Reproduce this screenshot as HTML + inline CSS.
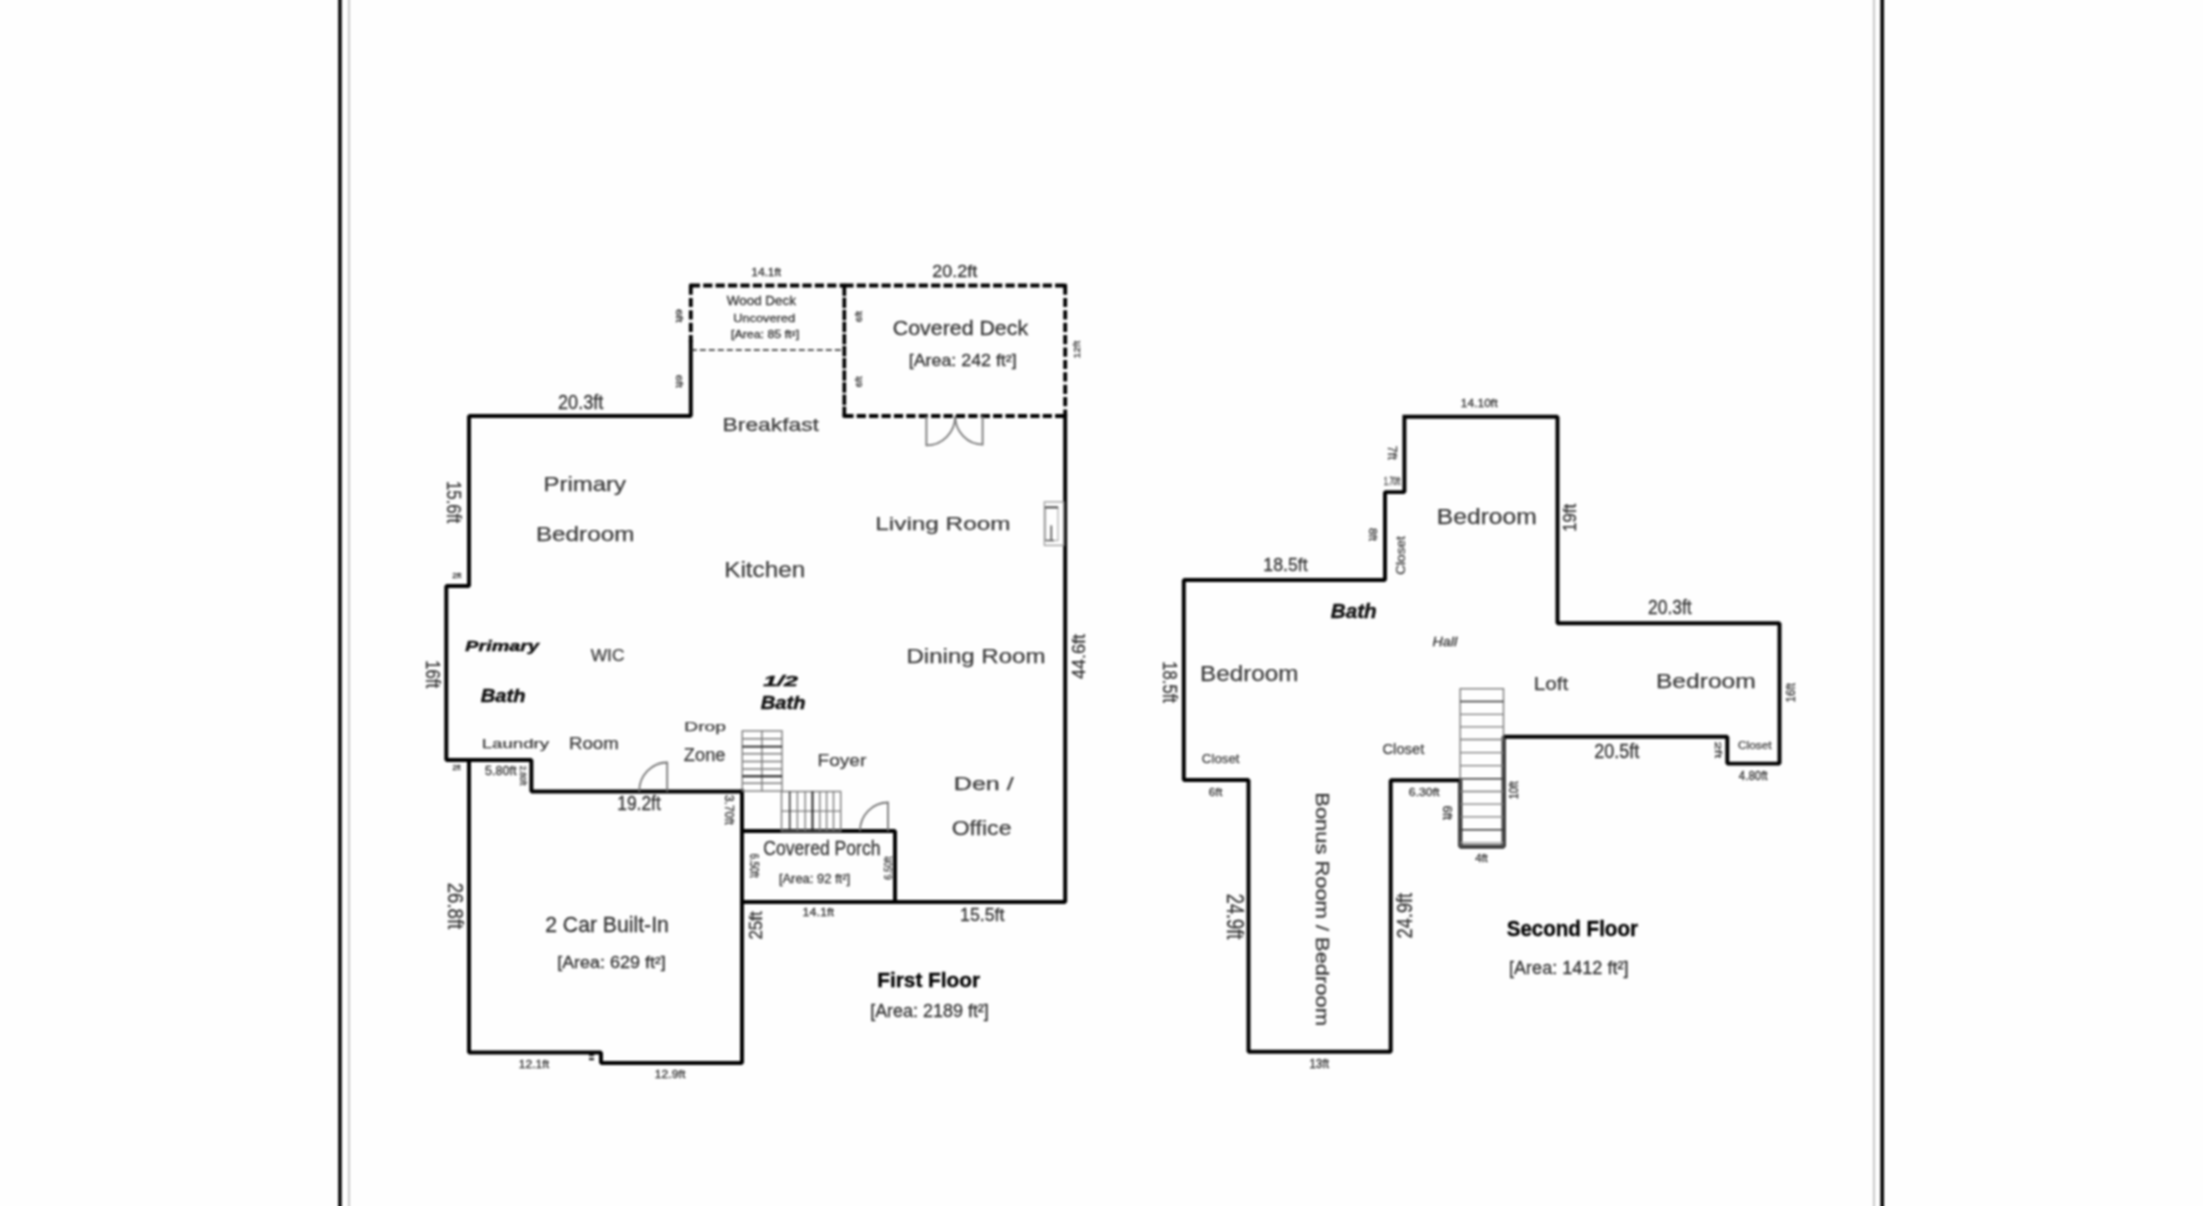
<!DOCTYPE html><html><head><meta charset="utf-8"><style>html,body{margin:0;padding:0;background:#fff;width:2203px;height:1206px;overflow:hidden}svg{position:absolute;left:-6px;top:-6px;font-family:"Liberation Sans",sans-serif;filter:blur(1px)}</style></head><body>
<svg width="2215" height="1218" viewBox="-6 -6 2215 1218">
<rect x="-6" y="-6" width="2215" height="1218" fill="#fefefe"/>
<rect x="338.2" y="-6" width="3.5" height="1218" fill="#000"/>
<rect x="348" y="-6" width="2" height="1218" fill="#c8c8c8"/>
<rect x="1873" y="-6" width="2" height="1218" fill="#c8c8c8"/>
<rect x="1880.4" y="-6" width="3.6" height="1218" fill="#000"/>
<path d="M690.8,342 L690.8,416 L469,416 L469,586 L446.3,586 L446.3,760 L531.4,760 L531.4,791.5 L742,791.5" fill="none" stroke="#000" stroke-width="3.95" stroke-linejoin="bevel" stroke-linecap="square"/>
<path d="M469,760 L469,1052.5 L601,1052.5 L601,1063 L742,1063 L742,791.5" fill="none" stroke="#000" stroke-width="3.95" stroke-linejoin="bevel" stroke-linecap="square"/>
<path d="M742,831 L895,831 L895,902" fill="none" stroke="#000" stroke-width="3.95" stroke-linejoin="bevel" stroke-linecap="square"/>
<path d="M742,902 L1065.2,902 L1065.2,416" fill="none" stroke="#000" stroke-width="3.95" stroke-linejoin="bevel" stroke-linecap="square"/>
<path d="M690.8,285.5 L844.3,285.5" fill="none" stroke="#000" stroke-width="3.85" stroke-dasharray="9.2 3.2" stroke-linecap="butt"/>
<path d="M844.3,285.5 L1065.2,285.5" fill="none" stroke="#000" stroke-width="3.85" stroke-dasharray="9.2 3.2" stroke-linecap="butt"/>
<path d="M690.8,285.5 L690.8,342" fill="none" stroke="#000" stroke-width="3.85" stroke-dasharray="9.2 3.2" stroke-linecap="butt"/>
<path d="M1065.2,285.5 L1065.2,416" fill="none" stroke="#000" stroke-width="3.85" stroke-dasharray="9.2 3.2" stroke-linecap="butt"/>
<path d="M844.3,416 L1065.2,416" fill="none" stroke="#000" stroke-width="3.85" stroke-dasharray="9.2 3.2" stroke-linecap="butt"/>
<path d="M844.3,285.5 L844.3,416" fill="none" stroke="#000" stroke-width="3.7" stroke-dasharray="10.5 1.6" stroke-linecap="butt"/>
<rect x="689.05" y="283.75" width="3.5" height="3.5" fill="#000"/>
<rect x="1063.45" y="283.75" width="3.5" height="3.5" fill="#000"/>
<rect x="842.55" y="414.25" width="3.5" height="3.5" fill="#000"/>
<rect x="1063.45" y="414.25" width="3.5" height="3.5" fill="#000"/>
<rect x="842.55" y="283.75" width="3.5" height="3.5" fill="#000"/>
<path d="M690.8,350 L844.3,350" fill="none" stroke="#222" stroke-width="1.6" stroke-dasharray="6 3" />
<path d="M1404.4,416.7 L1557.5,416.7 L1557.5,623.2 L1779.5,623.2 L1779.5,763.6 L1727.3,763.6 L1727.3,736.7 L1503.7,736.7 L1503.7,846.4 L1460.2,846.4 L1460.2,780.3 L1390.7,780.3 L1390.7,1051.8 L1248.5,1051.8 L1248.5,780 L1183.8,780 L1183.8,580 L1385,580 L1385,492.1 L1404.4,492.1 L1404.4,416.7" fill="none" stroke="#000" stroke-width="3.95" stroke-linejoin="bevel" stroke-linecap="square"/>
<rect x="1460.2" y="688.7" width="43.3" height="157.5" stroke="#7a7a7a" stroke-width="1.4" fill="none"/>
<line x1="1460.2" y1="701.5" x2="1503.5" y2="701.5" stroke="#333" stroke-width="1.6" fill="none"/>
<line x1="1460.2" y1="714.4" x2="1503.5" y2="714.4" stroke="#7a7a7a" stroke-width="1.4" fill="none"/>
<line x1="1460.2" y1="726.9" x2="1503.5" y2="726.9" stroke="#7a7a7a" stroke-width="1.4" fill="none"/>
<line x1="1460.2" y1="739.5" x2="1503.5" y2="739.5" stroke="#7a7a7a" stroke-width="1.4" fill="none"/>
<line x1="1460.2" y1="752.6" x2="1503.5" y2="752.6" stroke="#7a7a7a" stroke-width="1.4" fill="none"/>
<line x1="1460.2" y1="765.6" x2="1503.5" y2="765.6" stroke="#7a7a7a" stroke-width="1.4" fill="none"/>
<line x1="1460.2" y1="778.7" x2="1503.5" y2="778.7" stroke="#333" stroke-width="1.6" fill="none"/>
<line x1="1460.2" y1="791.5" x2="1503.5" y2="791.5" stroke="#7a7a7a" stroke-width="1.4" fill="none"/>
<line x1="1460.2" y1="804.1" x2="1503.5" y2="804.1" stroke="#7a7a7a" stroke-width="1.4" fill="none"/>
<line x1="1460.2" y1="816.9" x2="1503.5" y2="816.9" stroke="#7a7a7a" stroke-width="1.4" fill="none"/>
<line x1="1460.2" y1="829.8" x2="1503.5" y2="829.8" stroke="#333" stroke-width="1.6" fill="none"/>
<line x1="1460.2" y1="842.6" x2="1503.5" y2="842.6" stroke="#999" stroke-width="1.3"/>
<rect x="742.3" y="730.9" width="39.7" height="60.2" stroke="#7a7a7a" stroke-width="1.4" fill="none"/>
<line x1="761.9" y1="730.9" x2="761.9" y2="791.1" stroke="#7a7a7a" stroke-width="1.4" fill="none"/>
<line x1="742.3" y1="738.7" x2="782" y2="738.7" stroke="#7a7a7a" stroke-width="1.4" fill="none"/>
<line x1="742.3" y1="746.6" x2="782" y2="746.6" stroke="#1a1a1a" stroke-width="1.9" fill="none"/>
<line x1="742.3" y1="753.7" x2="782" y2="753.7" stroke="#7a7a7a" stroke-width="1.4" fill="none"/>
<line x1="742.3" y1="761.5" x2="782" y2="761.5" stroke="#7a7a7a" stroke-width="1.4" fill="none"/>
<line x1="742.3" y1="769" x2="782" y2="769" stroke="#7a7a7a" stroke-width="1.4" fill="none"/>
<line x1="742.3" y1="776.2" x2="782" y2="776.2" stroke="#1a1a1a" stroke-width="1.9" fill="none"/>
<line x1="742.3" y1="783.3" x2="782" y2="783.3" stroke="#7a7a7a" stroke-width="1.4" fill="none"/>
<rect x="781.5" y="791.5" width="59.2" height="39.5" stroke="#7a7a7a" stroke-width="1.4" fill="none"/>
<line x1="781.5" y1="811.1" x2="840.7" y2="811.1" stroke="#7a7a7a" stroke-width="1.4" fill="none"/>
<line x1="789.7" y1="791.5" x2="789.7" y2="831" stroke="#333" stroke-width="1.6" fill="none"/>
<line x1="797.4" y1="791.5" x2="797.4" y2="831" stroke="#7a7a7a" stroke-width="1.4" fill="none"/>
<line x1="805.2" y1="791.5" x2="805.2" y2="831" stroke="#7a7a7a" stroke-width="1.4" fill="none"/>
<line x1="812.5" y1="791.5" x2="812.5" y2="831" stroke="#1a1a1a" stroke-width="1.9" fill="none"/>
<line x1="819.8" y1="791.5" x2="819.8" y2="831" stroke="#7a7a7a" stroke-width="1.4" fill="none"/>
<line x1="826.6" y1="791.5" x2="826.6" y2="831" stroke="#7a7a7a" stroke-width="1.4" fill="none"/>
<line x1="833.5" y1="791.5" x2="833.5" y2="831" stroke="#7a7a7a" stroke-width="1.4" fill="none"/>
<path d="M667.2,791.5 L667.2,762.5 A28,29 0 0 0 639.2,791.5" fill="none" stroke="#777" stroke-width="1.8"/>
<path d="M888,831 L888,802.5 A28,28.5 0 0 0 860,831" fill="none" stroke="#777" stroke-width="1.8"/>
<path d="M926.4,416 L926.4,445.4 A28.8,29.4 0 0 0 955.2,416" fill="none" stroke="#777" stroke-width="1.8"/>
<path d="M982.6,416 L982.6,444.6 A27.4,28.6 0 0 1 955.2,416" fill="none" stroke="#777" stroke-width="1.8"/>
<rect x="1044.4" y="501.9" width="19.5" height="43.5" fill="none" stroke="#999" stroke-width="1.3"/>
<rect x="1045.5" y="507.4" width="12.5" height="33.1" fill="none" stroke="#aaa" stroke-width="1.2"/>
<line x1="1045" y1="507.4" x2="1058" y2="507.4" stroke="#333" stroke-width="1.8"/>
<line x1="1051.3" y1="525.4" x2="1051.3" y2="541" stroke="#444" stroke-width="1.5"/>
<line x1="1045.5" y1="540.5" x2="1054" y2="540.5" stroke="#555" stroke-width="1.5"/>
<rect x="589" y="1054" width="5" height="2.2" fill="#222"/><rect x="589" y="1058" width="5" height="2.2" fill="#222"/>
<text x="751.22" y="276.05" font-size="10.03" textLength="29.96" lengthAdjust="spacingAndGlyphs" style="font-weight:400" fill="#333" stroke="#333" stroke-width="0.3">14.1ft</text>
<text x="932.38" y="277.25" font-size="17.01" textLength="44.74" lengthAdjust="spacingAndGlyphs" style="font-weight:400" fill="#333" stroke="#333" stroke-width="0.3">20.2ft</text>
<text x="726.82" y="305.05" font-size="12.06" textLength="69.08" lengthAdjust="spacingAndGlyphs" style="font-weight:400" fill="#333" stroke="#333" stroke-width="0.3">Wood Deck</text>
<text x="733.16" y="321.75" font-size="11.05" textLength="61.88" lengthAdjust="spacingAndGlyphs" style="font-weight:400" fill="#333" stroke="#333" stroke-width="0.3">Uncovered</text>
<text x="731.02" y="338.25" font-size="10.03" textLength="68.10" lengthAdjust="spacingAndGlyphs" style="font-weight:400" fill="#333" stroke="#333" stroke-width="0.3">[Area: 85 ft²]</text>
<text x="892.80" y="334.95" font-size="20.64" textLength="135.32" lengthAdjust="spacingAndGlyphs" style="font-weight:400" fill="#333" stroke="#333" stroke-width="0.3">Covered Deck</text>
<text x="908.74" y="366.45" font-size="15.70" textLength="107.96" lengthAdjust="spacingAndGlyphs" style="font-weight:400" fill="#333" stroke="#333" stroke-width="0.3">[Area: 242 ft²]</text>
<text x="558.02" y="409.25" font-size="20.20" textLength="45.24" lengthAdjust="spacingAndGlyphs" style="font-weight:400" fill="#333" stroke="#333" stroke-width="0.3">20.3ft</text>
<text x="722.58" y="431.05" font-size="18.17" textLength="96.32" lengthAdjust="spacingAndGlyphs" style="font-weight:400" fill="#3a3a3a" stroke="#3a3a3a" stroke-width="0.25">Breakfast</text>
<text x="543.50" y="491.25" font-size="20.20" textLength="82.48" lengthAdjust="spacingAndGlyphs" style="font-weight:400" fill="#3a3a3a" stroke="#3a3a3a" stroke-width="0.25">Primary</text>
<text x="535.94" y="541.25" font-size="20.20" textLength="98.40" lengthAdjust="spacingAndGlyphs" style="font-weight:400" fill="#3a3a3a" stroke="#3a3a3a" stroke-width="0.25">Bedroom</text>
<text x="875.36" y="530.25" font-size="19.19" textLength="135.06" lengthAdjust="spacingAndGlyphs" style="font-weight:400" fill="#3a3a3a" stroke="#3a3a3a" stroke-width="0.25">Living Room</text>
<text x="724.22" y="576.95" font-size="21.22" textLength="80.98" lengthAdjust="spacingAndGlyphs" style="font-weight:400" fill="#3a3a3a" stroke="#3a3a3a" stroke-width="0.25">Kitchen</text>
<text x="906.44" y="662.75" font-size="20.49" textLength="139.12" lengthAdjust="spacingAndGlyphs" style="font-weight:400" fill="#3a3a3a" stroke="#3a3a3a" stroke-width="0.25">Dining Room</text>
<text x="465.38" y="650.55" font-size="14.83" textLength="73.58" lengthAdjust="spacingAndGlyphs" style="font-weight:700;font-style:italic" fill="#111" stroke="#111" stroke-width="0.45">Primary</text>
<text x="590.68" y="661.05" font-size="16.13" textLength="33.80" lengthAdjust="spacingAndGlyphs" style="font-weight:400" fill="#3a3a3a" stroke="#3a3a3a" stroke-width="0.25">WIC</text>
<text x="480.82" y="701.95" font-size="17.44" textLength="44.72" lengthAdjust="spacingAndGlyphs" style="font-weight:700;font-style:italic" fill="#111" stroke="#111" stroke-width="0.45">Bath</text>
<text x="763.24" y="685.65" font-size="14.97" textLength="34.72" lengthAdjust="spacingAndGlyphs" style="font-weight:700;font-style:italic" fill="#111" stroke="#111" stroke-width="0.45">1/2</text>
<text x="760.82" y="708.55" font-size="17.73" textLength="44.80" lengthAdjust="spacingAndGlyphs" style="font-weight:700;font-style:italic" fill="#111" stroke="#111" stroke-width="0.45">Bath</text>
<text x="684.30" y="730.65" font-size="13.52" textLength="41.60" lengthAdjust="spacingAndGlyphs" style="font-weight:400" fill="#3a3a3a" stroke="#3a3a3a" stroke-width="0.25">Drop</text>
<text x="683.88" y="761.15" font-size="17.44" textLength="41.60" lengthAdjust="spacingAndGlyphs" style="font-weight:400" fill="#3a3a3a" stroke="#3a3a3a" stroke-width="0.25">Zone</text>
<text x="481.66" y="748.05" font-size="13.52" textLength="67.38" lengthAdjust="spacingAndGlyphs" style="font-weight:400" fill="#3a3a3a" stroke="#3a3a3a" stroke-width="0.25">Laundry</text>
<text x="569.08" y="748.95" font-size="16.13" textLength="49.62" lengthAdjust="spacingAndGlyphs" style="font-weight:400" fill="#3a3a3a" stroke="#3a3a3a" stroke-width="0.25">Room</text>
<text x="817.52" y="765.95" font-size="15.84" textLength="48.82" lengthAdjust="spacingAndGlyphs" style="font-weight:400" fill="#3a3a3a" stroke="#3a3a3a" stroke-width="0.25">Foyer</text>
<text x="953.86" y="789.75" font-size="18.60" textLength="59.82" lengthAdjust="spacingAndGlyphs" style="font-weight:400" fill="#3a3a3a" stroke="#3a3a3a" stroke-width="0.25">Den /</text>
<text x="951.66" y="835.25" font-size="21.08" textLength="59.82" lengthAdjust="spacingAndGlyphs" style="font-weight:400" fill="#3a3a3a" stroke="#3a3a3a" stroke-width="0.25">Office</text>
<text x="763.30" y="855.45" font-size="20.06" textLength="117.20" lengthAdjust="spacingAndGlyphs" style="font-weight:400" fill="#333" stroke="#333" stroke-width="0.3">Covered Porch</text>
<text x="778.88" y="883.25" font-size="12.94" textLength="71.24" lengthAdjust="spacingAndGlyphs" style="font-weight:400" fill="#333" stroke="#333" stroke-width="0.3">[Area: 92 ft²]</text>
<text x="802.50" y="916.15" font-size="11.48" textLength="31.40" lengthAdjust="spacingAndGlyphs" style="font-weight:400" fill="#333" stroke="#333" stroke-width="0.3">14.1ft</text>
<text x="960.08" y="921.05" font-size="18.60" textLength="44.40" lengthAdjust="spacingAndGlyphs" style="font-weight:400" fill="#333" stroke="#333" stroke-width="0.3">15.5ft</text>
<text x="452.38" y="769.85" font-size="7.27" textLength="8.02" lengthAdjust="spacingAndGlyphs" style="font-weight:400" fill="#333" stroke="#333" stroke-width="0.3">2ft</text>
<text x="452.16" y="577.55" font-size="7.70" textLength="9.02" lengthAdjust="spacingAndGlyphs" style="font-weight:400" fill="#333" stroke="#333" stroke-width="0.3">2ft</text>
<text x="484.90" y="775.05" font-size="12.35" textLength="31.50" lengthAdjust="spacingAndGlyphs" style="font-weight:400" fill="#333" stroke="#333" stroke-width="0.3">5.80ft</text>
<text x="617.30" y="809.85" font-size="19.91" textLength="43.46" lengthAdjust="spacingAndGlyphs" style="font-weight:400" fill="#333" stroke="#333" stroke-width="0.3">19.2ft</text>
<text x="545.16" y="931.85" font-size="21.51" textLength="123.68" lengthAdjust="spacingAndGlyphs" style="font-weight:400" fill="#333" stroke="#333" stroke-width="0.3">2 Car Built-In</text>
<text x="557.16" y="968.25" font-size="15.84" textLength="108.68" lengthAdjust="spacingAndGlyphs" style="font-weight:400" fill="#333" stroke="#333" stroke-width="0.3">[Area: 629 ft²]</text>
<text x="518.72" y="1068.15" font-size="11.48" textLength="30.40" lengthAdjust="spacingAndGlyphs" style="font-weight:400" fill="#333" stroke="#333" stroke-width="0.3">12.1ft</text>
<text x="654.86" y="1078.05" font-size="11.34" textLength="30.40" lengthAdjust="spacingAndGlyphs" style="font-weight:400" fill="#333" stroke="#333" stroke-width="0.3">12.9ft</text>
<text x="877.30" y="987.25" font-size="20.64" textLength="102.74" lengthAdjust="spacingAndGlyphs" style="font-weight:700" fill="#000" stroke="#000" stroke-width="0.35">First Floor</text>
<text x="870.16" y="1016.65" font-size="17.44" textLength="118.68" lengthAdjust="spacingAndGlyphs" style="font-weight:400" fill="#333" stroke="#333" stroke-width="0.3">[Area: 2189 ft²]</text>
<text x="1460.72" y="407.25" font-size="10.90" textLength="36.82" lengthAdjust="spacingAndGlyphs" style="font-weight:400" fill="#333" stroke="#333" stroke-width="0.3">14.10ft</text>
<text x="1384.02" y="484.85" font-size="10.90" textLength="16.16" lengthAdjust="spacingAndGlyphs" style="font-weight:400" fill="#333" stroke="#333" stroke-width="0.3">1.70ft</text>
<text x="1436.86" y="523.75" font-size="21.95" textLength="99.92" lengthAdjust="spacingAndGlyphs" style="font-weight:400" fill="#3a3a3a" stroke="#3a3a3a" stroke-width="0.25">Bedroom</text>
<text x="1263.36" y="571.15" font-size="18.75" textLength="44.32" lengthAdjust="spacingAndGlyphs" style="font-weight:400" fill="#333" stroke="#333" stroke-width="0.3">18.5ft</text>
<text x="1330.82" y="618.05" font-size="19.91" textLength="45.80" lengthAdjust="spacingAndGlyphs" style="font-weight:700;font-style:italic" fill="#111" stroke="#111" stroke-width="0.45">Bath</text>
<text x="1432.52" y="645.95" font-size="12.94" textLength="24.58" lengthAdjust="spacingAndGlyphs" style="font-style:italic" fill="#333" stroke="#333" stroke-width="0.3">Hall</text>
<text x="1648.02" y="614.45" font-size="19.33" textLength="43.66" lengthAdjust="spacingAndGlyphs" style="font-weight:400" fill="#333" stroke="#333" stroke-width="0.3">20.3ft</text>
<text x="1200.08" y="680.75" font-size="22.97" textLength="98.26" lengthAdjust="spacingAndGlyphs" style="font-weight:400" fill="#3a3a3a" stroke="#3a3a3a" stroke-width="0.25">Bedroom</text>
<text x="1533.66" y="690.25" font-size="17.59" textLength="34.60" lengthAdjust="spacingAndGlyphs" style="font-weight:400" fill="#3a3a3a" stroke="#3a3a3a" stroke-width="0.25">Loft</text>
<text x="1655.94" y="687.85" font-size="21.08" textLength="99.84" lengthAdjust="spacingAndGlyphs" style="font-weight:400" fill="#3a3a3a" stroke="#3a3a3a" stroke-width="0.25">Bedroom</text>
<text x="1201.88" y="763.25" font-size="12.94" textLength="37.60" lengthAdjust="spacingAndGlyphs" style="font-weight:400" fill="#3a3a3a" stroke="#3a3a3a" stroke-width="0.25">Closet</text>
<text x="1382.46" y="754.35" font-size="14.39" textLength="41.80" lengthAdjust="spacingAndGlyphs" style="font-weight:400" fill="#3a3a3a" stroke="#3a3a3a" stroke-width="0.25">Closet</text>
<text x="1594.24" y="757.55" font-size="19.33" textLength="45.02" lengthAdjust="spacingAndGlyphs" style="font-weight:400" fill="#333" stroke="#333" stroke-width="0.3">20.5ft</text>
<text x="1738.02" y="749.15" font-size="10.61" textLength="33.60" lengthAdjust="spacingAndGlyphs" style="font-weight:400" fill="#3a3a3a" stroke="#3a3a3a" stroke-width="0.25">Closet</text>
<text x="1738.82" y="780.45" font-size="12.50" textLength="28.72" lengthAdjust="spacingAndGlyphs" style="font-weight:400" fill="#333" stroke="#333" stroke-width="0.3">4.80ft</text>
<text x="1208.88" y="796.15" font-size="11.34" textLength="13.38" lengthAdjust="spacingAndGlyphs" style="font-weight:400" fill="#333" stroke="#333" stroke-width="0.3">6ft</text>
<text x="1408.88" y="796.25" font-size="11.48" textLength="30.60" lengthAdjust="spacingAndGlyphs" style="font-weight:400" fill="#333" stroke="#333" stroke-width="0.3">6.30ft</text>
<text x="1475.24" y="862.15" font-size="10.61" textLength="12.52" lengthAdjust="spacingAndGlyphs" style="font-weight:400" fill="#333" stroke="#333" stroke-width="0.3">4ft</text>
<text x="1309.22" y="1067.85" font-size="11.92" textLength="19.96" lengthAdjust="spacingAndGlyphs" style="font-weight:400" fill="#333" stroke="#333" stroke-width="0.3">13ft</text>
<text x="1506.74" y="935.85" font-size="22.53" textLength="131.22" lengthAdjust="spacingAndGlyphs" style="font-weight:700" fill="#000" stroke="#000" stroke-width="0.35">Second Floor</text>
<text x="1509.02" y="974.25" font-size="18.02" textLength="119.46" lengthAdjust="spacingAndGlyphs" style="font-weight:400" fill="#333" stroke="#333" stroke-width="0.3">[Area: 1412 ft²]</text>
<text x="0" y="0" transform="translate(675.60,308.88) rotate(90)" font-size="8.72" textLength="13.66" lengthAdjust="spacingAndGlyphs" style="font-weight:400" fill="#333" stroke="#333" stroke-width="0.3">6ft</text>
<text x="0" y="0" transform="translate(675.60,374.82) rotate(90)" font-size="8.72" textLength="12.86" lengthAdjust="spacingAndGlyphs" style="font-weight:400" fill="#333" stroke="#333" stroke-width="0.3">6ft</text>
<text x="0" y="0" transform="translate(861.90,322.18) rotate(-90)" font-size="9.45" textLength="11.16" lengthAdjust="spacingAndGlyphs" style="font-weight:400" fill="#333" stroke="#333" stroke-width="0.3">6ft</text>
<text x="0" y="0" transform="translate(861.90,387.18) rotate(-90)" font-size="9.45" textLength="10.86" lengthAdjust="spacingAndGlyphs" style="font-weight:400" fill="#333" stroke="#333" stroke-width="0.3">6ft</text>
<text x="0" y="0" transform="translate(1080.40,358.42) rotate(-90)" font-size="9.74" textLength="17.60" lengthAdjust="spacingAndGlyphs" style="font-weight:400" fill="#333" stroke="#333" stroke-width="0.3">12ft</text>
<text x="0" y="0" transform="translate(447.40,480.94) rotate(90)" font-size="21.08" textLength="42.18" lengthAdjust="spacingAndGlyphs" style="font-weight:400" fill="#333" stroke="#333" stroke-width="0.3">15.6ft</text>
<text x="0" y="0" transform="translate(426.00,660.36) rotate(90)" font-size="20.49" textLength="27.76" lengthAdjust="spacingAndGlyphs" style="font-weight:400" fill="#333" stroke="#333" stroke-width="0.3">16ft</text>
<text x="0" y="0" transform="translate(1084.60,679.04) rotate(-90)" font-size="18.02" textLength="45.02" lengthAdjust="spacingAndGlyphs" style="font-weight:400" fill="#333" stroke="#333" stroke-width="0.3">44.6ft</text>
<text x="0" y="0" transform="translate(519.80,765.74) rotate(90)" font-size="8.72" textLength="19.58" lengthAdjust="spacingAndGlyphs" style="font-weight:400" fill="#333" stroke="#333" stroke-width="0.3">2.80ft</text>
<text x="0" y="0" transform="translate(725.20,795.02) rotate(90)" font-size="12.50" textLength="29.88" lengthAdjust="spacingAndGlyphs" style="font-weight:400" fill="#333" stroke="#333" stroke-width="0.3">3.70ft</text>
<text x="0" y="0" transform="translate(749.50,853.54) rotate(90)" font-size="12.94" textLength="24.14" lengthAdjust="spacingAndGlyphs" style="font-weight:400" fill="#333" stroke="#333" stroke-width="0.3">6.50ft</text>
<text x="0" y="0" transform="translate(891.50,879.68) rotate(-90)" font-size="11.48" textLength="23.14" lengthAdjust="spacingAndGlyphs" style="font-weight:400" fill="#333" stroke="#333" stroke-width="0.3">6.50ft</text>
<text x="0" y="0" transform="translate(762.20,939.62) rotate(-90)" font-size="18.75" textLength="28.38" lengthAdjust="spacingAndGlyphs" style="font-weight:400" fill="#333" stroke="#333" stroke-width="0.3">25ft</text>
<text x="0" y="0" transform="translate(447.50,882.66) rotate(90)" font-size="21.66" textLength="46.60" lengthAdjust="spacingAndGlyphs" style="font-weight:400" fill="#333" stroke="#333" stroke-width="0.3">26.8ft</text>
<text x="0" y="0" transform="translate(1387.60,445.86) rotate(90)" font-size="13.08" textLength="13.76" lengthAdjust="spacingAndGlyphs" style="font-weight:400" fill="#333" stroke="#333" stroke-width="0.3">7ft</text>
<text x="0" y="0" transform="translate(1369.40,527.88) rotate(90)" font-size="11.19" textLength="13.16" lengthAdjust="spacingAndGlyphs" style="font-weight:400" fill="#333" stroke="#333" stroke-width="0.3">8ft</text>
<text x="0" y="0" transform="translate(1404.90,574.76) rotate(-90)" font-size="12.65" textLength="38.60" lengthAdjust="spacingAndGlyphs" style="font-weight:400" fill="#3a3a3a" stroke="#3a3a3a" stroke-width="0.25">Closet</text>
<text x="0" y="0" transform="translate(1576.40,531.78) rotate(-90)" font-size="17.44" textLength="27.96" lengthAdjust="spacingAndGlyphs" style="font-weight:400" fill="#333" stroke="#333" stroke-width="0.3">19ft</text>
<text x="0" y="0" transform="translate(1162.60,661.30) rotate(90)" font-size="20.20" textLength="41.60" lengthAdjust="spacingAndGlyphs" style="font-weight:400" fill="#333" stroke="#333" stroke-width="0.3">18.5ft</text>
<text x="0" y="0" transform="translate(1795.30,702.42) rotate(-90)" font-size="12.65" textLength="19.32" lengthAdjust="spacingAndGlyphs" style="font-weight:400" fill="#333" stroke="#333" stroke-width="0.3">16ft</text>
<text x="0" y="0" transform="translate(1714.60,741.52) rotate(90)" font-size="9.16" textLength="16.60" lengthAdjust="spacingAndGlyphs" style="font-weight:400" fill="#333" stroke="#333" stroke-width="0.3">2ft</text>
<text x="0" y="0" transform="translate(1517.80,799.34) rotate(-90)" font-size="12.21" textLength="18.24" lengthAdjust="spacingAndGlyphs" style="font-weight:400" fill="#333" stroke="#333" stroke-width="0.3">10ft</text>
<text x="0" y="0" transform="translate(1443.00,805.38) rotate(90)" font-size="12.50" textLength="14.52" lengthAdjust="spacingAndGlyphs" style="font-weight:400" fill="#333" stroke="#333" stroke-width="0.3">6ft</text>
<text x="0" y="0" transform="translate(1316.20,792.30) rotate(90)" font-size="19.19" textLength="233.62" lengthAdjust="spacingAndGlyphs" style="font-weight:400" fill="#333" stroke="#333" stroke-width="0.3">Bonus Room / Bedroom</text>
<text x="0" y="0" transform="translate(1227.00,893.74) rotate(90)" font-size="23.69" textLength="45.66" lengthAdjust="spacingAndGlyphs" style="font-weight:400" fill="#333" stroke="#333" stroke-width="0.3">24.9ft</text>
<text x="0" y="0" transform="translate(1411.60,938.48) rotate(-90)" font-size="21.66" textLength="45.66" lengthAdjust="spacingAndGlyphs" style="font-weight:400" fill="#333" stroke="#333" stroke-width="0.3">24.9ft</text>
</svg></body></html>
